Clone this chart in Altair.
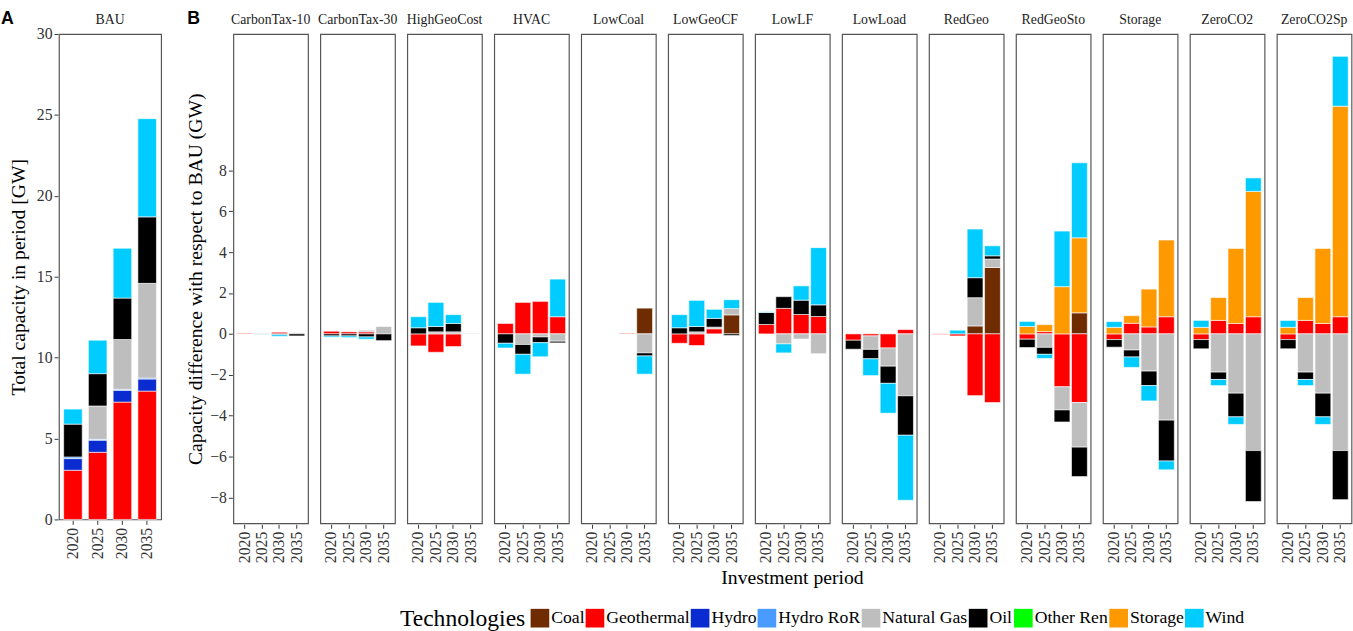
import altair as alt
import pandas as pd

# ---------------- data ----------------
techs = ["Coal", "Geothermal", "Hydro", "Hydro RoR", "Natural Gas", "Oil",
         "Other Ren", "Storage", "Wind"]
tech_colors = ["#6E2C00", "#FF0000", "#0A2BD0", "#4A9BFF", "#BEBEBE",
               "#000000", "#00FF00", "#FF9900", "#00CCFF"]
periods = ["2020", "2025", "2030", "2035"]

# Panel A: BAU total capacity (GW)
bau_coal = [0, 0, 0, 0]
bau_geothermal = [3.04, 4.15, 7.25, 7.93]
bau_hydro = [0.72, 0.75, 0.73, 0.75]
bau_hydro_ror = [0.10, 0.05, 0.06, 0.06]
bau_natural_gas = [0.0, 2.06, 3.08, 5.85]
bau_oil = [2.03, 2.00, 2.56, 4.11]
bau_other_ren = [0, 0, 0, 0]
bau_storage = [0, 0, 0, 0]
bau_wind = [0.93, 2.07, 3.08, 6.07]

# Panel B: difference with respect to BAU (GW), 4 periods per scenario
scenarios = ["CarbonTax-10", "CarbonTax-30", "HighGeoCost", "HVAC", "LowCoal",
             "LowGeoCF", "LowLF", "LowLoad", "RedGeo", "RedGeoSto", "Storage",
             "ZeroCO2", "ZeroCO2Sp"]
diff_coal = [
    0, 0, 0, 0,   0, 0, 0, 0,   0, 0, 0, 0,   0, 0, 0, 0,
    0, 0, 0, 1.26,   0, 0, 0, 0.93,   0, 0, 0, 0,   0, 0, 0, 0,
    0, 0, 0.39, 3.25,   0, 0, 0, 1.03,   0, 0, 0, 0,   0, 0, 0, 0,
    0, 0, 0, 0]
diff_geothermal = [
    0.03, 0.02, 0.08, 0,   0.13, 0.10, 0.10, 0,   -0.59, -0.90, -0.62, 0,
    0.51, 1.54, 1.59, 0.84,   0, 0, 0.03, 0,   -0.46, -0.57, 0.25, 0,
    0.46, 1.25, 0.95, 0.85,   -0.31, -0.10, -0.69, 0.21,   -0.03, -0.10, -3.02, -3.36,
    -0.26, 0.11, -2.59, -3.36,   -0.28, 0.52, 0.34, 0.84,   -0.28, 0.66, 0.51, 0.84,
    -0.28, 0.66, 0.51, 0.84]
diff_natural_gas = [
    0, 0, 0, 0.05,   0, 0, 0.08, 0.36,   0, 0.10, 0.10, 0.03,
    0, -0.52, -0.15, -0.36,   0, 0, 0, -0.93,   0, 0.10, 0.08, 0.31,
    0, -0.49, -0.25, -0.97,   0, -0.66, -0.89, -3.03,   0, 0, 1.38, 0.41,
    0, -0.66, -1.13, -2.18,   0, -0.79, -1.82, -4.22,   0, -1.87, -2.90, -5.71,
    0, -1.87, -2.90, -5.71]
diff_oil = [
    0, 0, -0.04, -0.10,   -0.10, -0.10, -0.15, -0.33,   0.30, 0.26, 0.41, 0,
    -0.46, -0.48, -0.28, -0.08,   0, 0, 0, -0.15,   0.30, 0.26, 0.43, -0.08,
    0.59, 0.57, 0.70, 0.57,   -0.44, -0.46, -0.84, -1.93,   0, 0, 0.98, 0.16,
    -0.41, -0.34, -0.59, -1.44,   -0.37, -0.34, -0.71, -2.00,   -0.45, -0.36, -1.16, -2.49,
    -0.45, -0.36, -1.16, -2.40]
diff_storage = [
    0, 0, 0, 0,   0, 0, 0, 0,   0, 0, 0, 0,   0, 0, 0, 0,
    0, 0, 0, 0,   0, 0, 0, 0,   0, 0, 0, 0,   0, 0, 0, 0,
    0, 0, 0, 0,   0.36, 0.34, 2.31, 3.67,   0.32, 0.37, 1.85, 3.75,
    0.32, 1.12, 3.67, 6.13,   0.32, 1.12, 3.67, 10.30]
diff_wind = [
    0, -0.02, -0.08, 0,   -0.06, -0.08, -0.11, 0,   0.54, 1.18, 0.43, 0,
    -0.23, -0.97, -0.69, 1.84,   0, 0, 0, -0.89,   0.64, 1.28, 0.44, 0.43,
    0.03, -0.44, 0.70, 2.80,   0, -0.82, -1.46, -3.18,   0, 0.18, 2.38, 0.49,
    0.25, -0.20, 2.72, 3.67,   0.28, -0.51, -0.75, -0.43,   0.34, -0.30, -0.37, 0.66,
    0.34, -0.30, -0.37, 2.44]

# ---------------- tables ----------------
bau_series = {"Coal": bau_coal, "Geothermal": bau_geothermal, "Hydro": bau_hydro,
              "Hydro RoR": bau_hydro_ror, "Natural Gas": bau_natural_gas,
              "Oil": bau_oil, "Other Ren": bau_other_ren, "Storage": bau_storage,
              "Wind": bau_wind}
rowsA = []
for t, vals in bau_series.items():
    for p, v in zip(periods, vals):
        if v != 0:
            rowsA.append({"scen": "BAU", "period": p, "tech": t,
                          "idx": techs.index(t), "value": v})
dfA = pd.DataFrame(rowsA)

diff_series = {"Coal": diff_coal, "Geothermal": diff_geothermal,
               "Natural Gas": diff_natural_gas, "Oil": diff_oil,
               "Storage": diff_storage, "Wind": diff_wind}
rowsB = []
for t, vals in diff_series.items():
    for i, v in enumerate(vals):
        if v != 0:
            rowsB.append({"scen": scenarios[i // 4], "period": periods[i % 4],
                          "tech": t, "idx": techs.index(t), "value": v})
dfB = pd.DataFrame(rowsB)

# ---------------- styles ----------------
SERIF = "Liberation Serif"
SANS = "Liberation Sans"

color_enc = alt.Color(
    "tech:N",
    scale=alt.Scale(domain=techs, range=tech_colors),
    legend=alt.Legend(
        title="Technologies", orient="none", legendX=347, legendY=585,
        direction="horizontal", columns=9, titleOrient="left",
        titleFont=SERIF, titleFontSize=24, titleFontWeight="normal",
        titleColor="#000", titleBaseline="middle", titlePadding=5,
        labelFont=SERIF, labelFontSize=18, labelColor="#000",
        symbolType="square", symbolSize=361, symbolStrokeWidth=0,
        symbolOpacity=1, columnPadding=1, labelOffset=2),
)
order_enc = alt.Order("idx:Q", sort="ascending")

# Panel A
barsA = alt.Chart(dfA).mark_bar(stroke="white", strokeWidth=0.6).encode(
    x=alt.X("period:O", title=None,
            scale=alt.Scale(paddingInner=0.25, paddingOuter=0.19),
            axis=alt.Axis(labelAngle=-90, labelPadding=3)),
    y=alt.Y("value:Q", title="Total capacity in period [GW]",
            scale=alt.Scale(domain=[0, 30], nice=False),
            axis=alt.Axis(values=[0, 5, 10, 15, 20, 25, 30], titlePadding=8)),
    color=color_enc,
    order=order_enc,
).properties(width=104, height=494)

A = barsA.facet(
    column=alt.Column("scen:N", header=alt.Header(
        title=None, labelOrient="top", labelFont=SERIF, labelFontSize=14,
        labelColor="#222", labelPadding=6)),
    title=alt.Title("A", anchor="start", font=SANS, fontSize=18,
                    fontWeight="bold", color="#000", offset=-15, dx=-8),
)

# Panel B
barsB = alt.Chart(dfB).mark_bar(stroke="white", strokeWidth=0.6).encode(
    x=alt.X("period:O", title=None,
            scale=alt.Scale(paddingInner=0.09, paddingOuter=0.19),
            axis=alt.Axis(labelAngle=-90, labelPadding=3)),
    y=alt.Y("value:Q", title="Capacity difference with respect to BAU (GW)",
            scale=alt.Scale(domain=[-9.27, 14.67], nice=False, zero=False),
            axis=alt.Axis(values=[-8, -6, -4, -2, 0, 2, 4, 6, 8], titlePadding=4)),
    color=color_enc,
    order=order_enc,
).properties(width=76, height=498)

B = barsB.facet(
    column=alt.Column("scen:N", sort=scenarios, header=alt.Header(
        title="Investment period", titleOrient="bottom", labelOrient="top",
        titleFont=SERIF, titleFontSize=20, titleFontWeight="normal",
        titleColor="#000", titlePadding=-4,
        labelFont=SERIF, labelFontSize=14, labelColor="#222", labelPadding=6)),
    spacing=10.5,
    title=alt.Title("B", anchor="start", font=SANS, fontSize=18,
                    fontWeight="bold", color="#000", offset=-15, dx=1),
)

chart = alt.hconcat(A, B, spacing=23.5).configure_view(
    stroke="#555555", strokeWidth=1.2
).configure_axis(
    labelFont=SERIF, titleFont=SERIF, labelFontSize=16, titleFontSize=20,
    titleFontWeight="normal", labelColor="#333", titleColor="#000",
    tickColor="#333", tickSize=4, domain=False, grid=False
).configure_legend(
    labelFont=SERIF, titleFont=SERIF
).properties(
    padding={"left": 1, "top": 5, "right": 0, "bottom": 0},
    background="white"
)

chart.save("out.html", embed_options={"renderer": "svg", "actions": False})
